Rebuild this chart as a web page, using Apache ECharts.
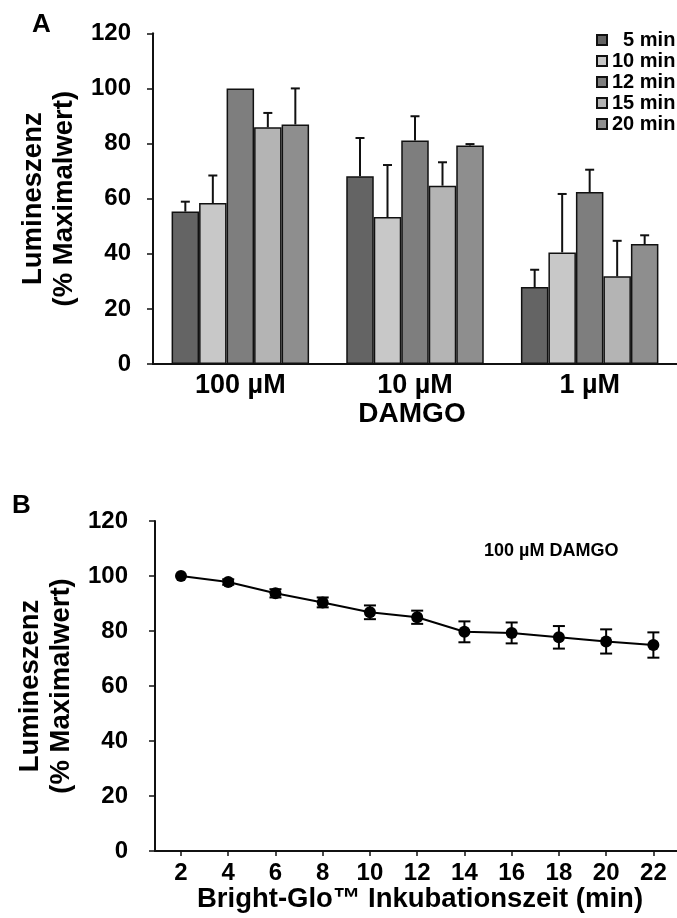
<!DOCTYPE html>
<html>
<head>
<meta charset="utf-8">
<script src="https://cdn.jsdelivr.net/npm/echarts@6/dist/echarts.min.js"></script>
<style>
html,body{margin:0;padding:0;background:#fff;}
#chart{width:677px;height:918px;}
</style>
</head>
<body>
<div id="chart"></div>
<script>
// ---- Panel A data ----
var concentrations = ['100 µM', '10 µM', '1 µM'];
var timeNames = ['5 min', '10 min', '12 min', '15 min', '20 min'];
var vals5  = [55.3, 68.1, 27.9];
var vals10 = [58.4, 53.3, 40.5];
var vals12 = [100, 81.1, 62.4];
var vals15 = [85.9, 64.7, 31.8];
var vals20 = [86.9, 79.3, 43.5];
var err5  = [3.6, 13.9, 6.3];
var err10 = [10.0, 18.9, 21.2];
var err12 = [0, 8.8, 8.1];
var err15 = [5.2, 8.5, 12.9];
var err20 = [13.1, 0.5, 3.2];

// ---- Panel B data ----
var incubTimes = [2, 4, 6, 8, 10, 12, 14, 16, 18, 20, 22];
var lumMean = [100, 97.8, 93.7, 90.4, 86.8, 85.0, 79.7, 79.3, 77.7, 76.2, 74.9];
var lumErr  = [0, 1.0, 1.5, 1.8, 2.5, 2.4, 3.8, 3.8, 4.1, 4.4, 4.6];

var FONT = '"Liberation Sans", Arial, Helvetica, sans-serif';
var barColors = ['#646464', '#c8c8c8', '#7e7e7e', '#b4b4b4', '#8e8e8e'];
var allVals = [vals5, vals10, vals12, vals15, vals20];
var allErrs = [err5, err10, err12, err15, err20];
var BAR_W = 27.5;

var chart = echarts.init(document.getElementById('chart'), null, {renderer: 'canvas'});

var series = [];
timeNames.forEach(function (name, i) {
  series.push({
    type: 'bar', name: name, xAxisIndex: 0, yAxisIndex: 0,
    data: allVals[i], barWidth: BAR_W, barGap: '0%',
    itemStyle: {color: barColors[i], borderColor: '#111', borderWidth: 1.5},
    emphasis: {disabled: true}, z: 2
  });
});

// error bars panel A
var errDataA = [];
timeNames.forEach(function (name, i) {
  concentrations.forEach(function (c, j) {
    errDataA.push([j, i, allVals[i][j], allErrs[i][j]]);
  });
});
series.push({
  type: 'custom', xAxisIndex: 0, yAxisIndex: 0, z: 5,
  encode: {x: 0, y: 2},
  data: errDataA,
  renderItem: function (params, api) {
    var cat = api.value(0), si = api.value(1), v = api.value(2), e = api.value(3);
    if (!(e > 0)) return null;
    var base = api.coord([cat, v]);
    var top = api.coord([cat, v + e]);
    var x = base[0] + (si - 2) * BAR_W;
    var hw = 4.5;
    var st = {stroke: '#111', lineWidth: 2};
    return {type: 'group', children: [
      {type: 'line', shape: {x1: x, y1: base[1], x2: x, y2: top[1]}, style: st},
      {type: 'line', shape: {x1: x - hw, y1: top[1], x2: x + hw, y2: top[1]}, style: st}
    ]};
  }
});

// panel B line
var lineData = incubTimes.map(function (t, i) { return [t, lumMean[i]]; });
series.push({
  type: 'line', xAxisIndex: 1, yAxisIndex: 1, data: lineData,
  symbol: 'circle', symbolSize: 12,
  itemStyle: {color: '#000'}, lineStyle: {color: '#000', width: 2},
  emphasis: {disabled: true}, z: 4
});
var errDataB = incubTimes.map(function (t, i) { return [t, lumMean[i], lumErr[i]]; });
series.push({
  type: 'custom', xAxisIndex: 1, yAxisIndex: 1, z: 3,
  encode: {x: 0, y: 1},
  data: errDataB,
  renderItem: function (params, api) {
    var x = api.value(0), v = api.value(1), e = api.value(2);
    if (!(e > 0)) return null;
    var top = api.coord([x, v + e]);
    var bot = api.coord([x, v - e]);
    var hw = 6;
    var st = {stroke: '#000', lineWidth: 2};
    return {type: 'group', children: [
      {type: 'line', shape: {x1: top[0], y1: top[1], x2: bot[0], y2: bot[1]}, style: st},
      {type: 'line', shape: {x1: top[0] - hw, y1: top[1], x2: top[0] + hw, y2: top[1]}, style: st},
      {type: 'line', shape: {x1: bot[0] - hw, y1: bot[1], x2: bot[0] + hw, y2: bot[1]}, style: st}
    ]};
  }
});

var axisLineStyle = {color: '#111', width: 2};
var yNameStyle = {fontFamily: FONT, fontWeight: 'bold', fontSize: 27.5, color: '#000', lineHeight: 31};

var option = {
  backgroundColor: '#fff',
  animation: false,
  textStyle: {fontFamily: FONT},
  grid: [
    {left: 153, top: 33.3, width: 537, height: 330.7},
    {left: 155, top: 521, width: 525.6, height: 330}
  ],
  legend: {
    data: timeNames, orient: 'vertical', left: 596, top: 30, padding: 0,
    itemWidth: 10, itemHeight: 10, itemGap: 1, icon: 'rect',
    textStyle: {fontFamily: FONT, fontWeight: 'bold', fontSize: 20, color: '#000'},
    formatter: function (n) { return n === '5 min' ? '  ' + n : n; },
    selectedMode: false
  },
  xAxis: [
    {
      type: 'category', gridIndex: 0, data: concentrations,
      axisLine: {lineStyle: axisLineStyle}, axisTick: {show: false},
      axisLabel: {fontFamily: FONT, fontWeight: 'bold', fontSize: 27, color: '#000', margin: 8},
      name: 'DAMGO', nameLocation: 'middle', nameGap: 32,
      nameTextStyle: {fontFamily: FONT, fontWeight: 'bold', fontSize: 28, color: '#000', padding: [0, 6, 0, 0]},
      splitLine: {show: false}
    },
    {
      type: 'value', gridIndex: 1, min: 0.9, max: 23,
      axisLine: {lineStyle: axisLineStyle},
      axisTick: {show: true, length: 5, lineStyle: {color: '#111', width: 1.5}, customValues: incubTimes},
      axisLabel: {fontFamily: FONT, fontWeight: 'bold', fontSize: 24, color: '#000', margin: 10, customValues: incubTimes},
      name: 'Bright-Glo™ Inkubationszeit (min)', nameLocation: 'middle', nameGap: 33,
      nameTextStyle: {fontFamily: FONT, fontWeight: 'bold', fontSize: 27.5, color: '#000', padding: [0, 0, 0, 8]},
      splitLine: {show: false}
    }
  ],
  yAxis: [
    {
      type: 'value', gridIndex: 0, min: 0, max: 120, interval: 20,
      axisLine: {show: true, lineStyle: axisLineStyle},
      axisTick: {show: true, length: 6, lineStyle: {color: '#111', width: 1.5}},
      axisLabel: {fontFamily: FONT, fontWeight: 'bold', fontSize: 24, color: '#000', margin: 22},
      name: 'Lumineszenz\n(% Maximalwert)', nameLocation: 'middle', nameGap: 70, nameRotate: 90,
      nameTextStyle: yNameStyle,
      splitLine: {show: false}
    },
    {
      type: 'value', gridIndex: 1, min: 0, max: 120, interval: 20,
      axisLine: {show: true, lineStyle: axisLineStyle},
      axisTick: {show: true, length: 6, lineStyle: {color: '#111', width: 1.5}},
      axisLabel: {fontFamily: FONT, fontWeight: 'bold', fontSize: 24, color: '#000', margin: 27},
      name: 'Lumineszenz\n(% Maximalwert)', nameLocation: 'middle', nameGap: 72, nameRotate: 90,
      nameTextStyle: yNameStyle,
      splitLine: {show: false}
    }
  ],
  graphic: [
    {type: 'text', left: 32, top: 12, style: {text: 'A', fontFamily: FONT, fontWeight: 'bold', fontSize: 26, fill: '#000'}},
    {type: 'text', left: 12, top: 493, style: {text: 'B', fontFamily: FONT, fontWeight: 'bold', fontSize: 26, fill: '#000'}},
    {type: 'text', left: 484, top: 542, style: {text: '100 µM DAMGO', fontFamily: FONT, fontWeight: 'bold', fontSize: 18, fill: '#000'}}
  ],
  series: series
};
chart.setOption(option);
</script>
</body>
</html>
